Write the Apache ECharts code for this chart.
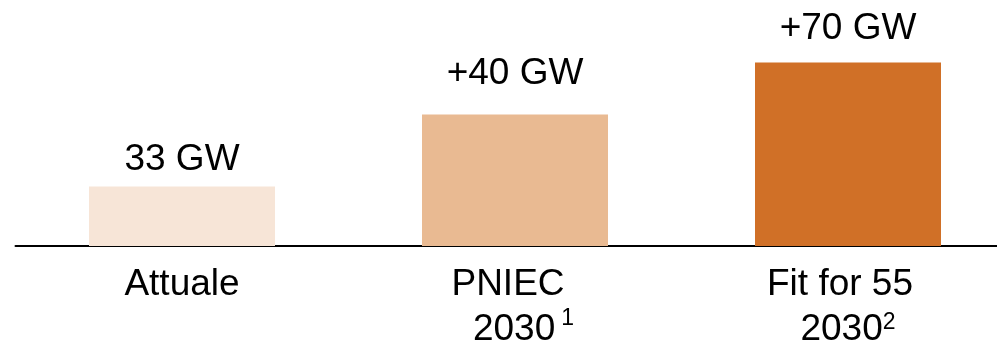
<!DOCTYPE html>
<html><head><meta charset="utf-8">
<script src="https://cdn.jsdelivr.net/npm/echarts@6/dist/echarts.min.js"></script>
<style>html,body{margin:0;padding:0;background:#fff}#c{width:997px;height:346px}</style>
</head><body><div id="c"></div>
<script>
// ---- data ----
const categories = ['Attuale', 'PNIEC', 'Fit for 55'];
const yearLines = ['', '2030', '2030'];
const footnotes = ['', '1', '2'];
const values = [33, 73, 102];
const valueLabels = ['33 GW', '+40 GW', '+70 GW'];
const barColors = ['#F7E5D7', '#E9BA92', '#D07027'];

// ---- styling ----
const FONT = '"Liberation Sans", Arial, sans-serif';
const line1PadRight = [0, 14, 16];
const line2PadLeft = [0, 17, 0];
const supGap = [0, 6, 0];
const supPadTop = [0, 0, 4];
const labelDistance = [8.5, 22, 14.7];

const rich = {};
categories.forEach((c, i) => {
  rich['a' + i] = {fontSize: 37, lineHeight: 45, fontFamily: FONT, color: '#000', align: 'center', verticalAlign: 'middle', padding: [0, line1PadRight[i], 0, 0]};
  rich['b' + i] = {fontSize: 37, lineHeight: 45, fontFamily: FONT, color: '#000', align: 'center', verticalAlign: 'middle', padding: [0, 0, 0, line2PadLeft[i]]};
  rich['s' + i] = {fontSize: 23, lineHeight: 18, fontFamily: FONT, color: '#000', align: 'center', verticalAlign: 'top', padding: [supPadTop[i], 0, 0, supGap[i]]};
});

const chart = echarts.init(document.getElementById('c'), null, {renderer: 'canvas'});
chart.setOption({
  animation: false,
  backgroundColor: '#fff',
  grid: {left: 15.5, right: -17.5, top: 30, bottom: 100, containLabel: false, outerBoundsMode: 'none'},
  xAxis: {
    type: 'category',
    data: categories,
    axisLine: {lineStyle: {color: '#000', width: 2}},
    axisTick: {show: false},
    axisLabel: {
      interval: 0,
      margin: 16.5,
      formatter: function (v, i) {
        if (!yearLines[i]) return '{a' + i + '|' + v + '}';
        return '{a' + i + '|' + v + '}\n{b' + i + '|' + yearLines[i] + '}{s' + i + '|' + footnotes[i] + '}';
      },
      rich: rich
    }
  },
  yAxis: {type: 'value', min: 0, max: 120, show: false, splitLine: {show: false}},
  series: [{
    type: 'bar',
    barWidth: 186,
    data: values.map((v, i) => ({
      value: v,
      itemStyle: {color: barColors[i]},
      label: {distance: labelDistance[i]}
    })),
    label: {
      show: true,
      position: 'top',
      fontSize: 37,
      lineHeight: 37,
      fontFamily: FONT,
      color: '#000',
      formatter: p => valueLabels[p.dataIndex]
    }
  }]
});
</script></body></html>
